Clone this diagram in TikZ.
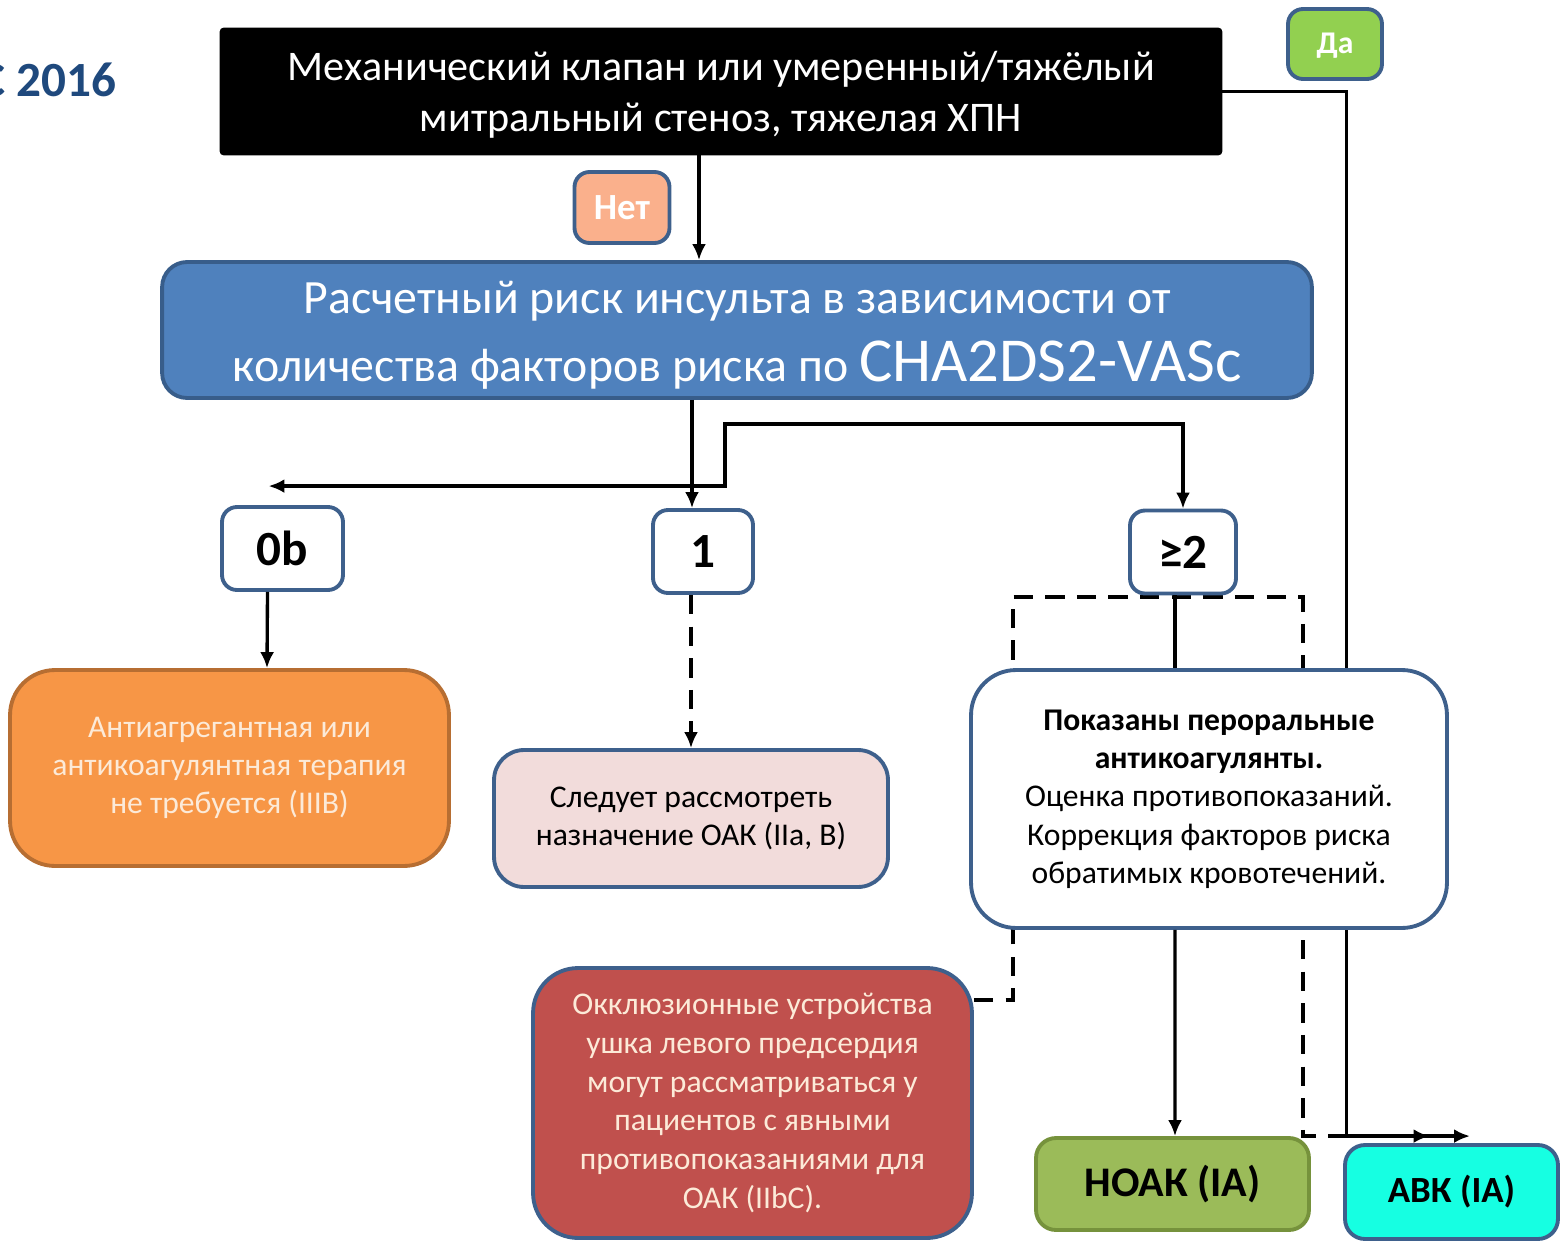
\documentclass[tikz,border=0pt]{standalone}
\usepackage{fontspec}
\setmainfont{Carlito}
\usetikzlibrary{arrows.meta,calc,backgrounds}
\definecolor{edgeBlue}{RGB}{62,96,140}
\definecolor{titleBlue}{RGB}{31,73,125}
\definecolor{riskFill}{RGB}{79,129,189}
\definecolor{riskEdge}{RGB}{56,93,138}
\definecolor{yesFill}{RGB}{146,208,80}
\definecolor{noFill}{RGB}{250,176,140}
\definecolor{orangeFill}{RGB}{247,150,70}
\definecolor{orangeEdge}{RGB}{183,110,50}
\definecolor{creamText}{RGB}{252,234,216}
\definecolor{pinkFill}{RGB}{242,220,219}
\definecolor{redFill}{RGB}{192,80,77}
\definecolor{noakFill}{RGB}{155,187,89}
\definecolor{noakEdge}{RGB}{118,146,60}
\definecolor{vkaFill}{RGB}{22,255,226}
\newcommand{\lowered}[2]{\raisebox{-#1}[\height][\depth]{#2}}

\begin{document}
\begin{tikzpicture}[
  x=0.02cm, y=-0.02cm,
  every node/.style={font=\fontsize{18}{21.8}\selectfont},
  box/.style={draw=edgeBlue,line width=2.2pt,rounded corners=0.9cm,align=center,inner sep=0pt},
  tag/.style={box,rounded corners=0.3cm,text=white,font=\bfseries\fontsize{18}{20}\selectfont,minimum width=1.88cm,minimum height=1.4cm},
  score/.style={box,rounded corners=0.3cm,fill=white,font=\bfseries\fontsize{28}{30}\selectfont,minimum height=1.66cm},
  tip/.tip={Latex[length=3.2mm,width=2.8mm]},
  arr/.style={line width=1.9pt,-tip},
  link/.style={line width=1.9pt},
  dlink/.style={link,dash pattern=on 11pt off 7pt}
]
\useasboundingbox (0,0) rectangle (1560,1241);

% top row
\node[anchor=east,inner sep=0pt,text=titleBlue,font=\bfseries\fontsize{28}{32}\selectfont] (year) at (117,80) {C 2016};
\node[fill=black,draw=black,rounded corners=2pt,text=white,align=center,
      minimum width=20.04cm,minimum height=2.54cm,font=\fontsize{24}{29}\selectfont] (valve) at (721,91.5)
      {\lowered{2pt}{Механический клапан или умеренный/тяжёлый}\\\lowered{2pt}{митральный стеноз, тяжелая ХПН}};
\node[tag,fill=yesFill] (yes) at (1335,44) {\lowered{1pt}{Да}};
\node[tag,fill=noFill,minimum width=1.9cm,minimum height=1.42cm,font=\bfseries\fontsize{21}{22}\selectfont] (no) at (622,207.5) {Нет};

\node[box,draw=riskEdge,fill=riskFill,text=white,rounded corners=0.5cm,
      minimum width=23cm,minimum height=2.72cm,font=\fontsize{27.2}{38.7}\selectfont] (risk) at (737,330)
      {\lowered{3pt}{Расчетный риск инсульта в зависимости от}\\\lowered{3pt}{количества факторов риска по {\fontsize{35.6}{38.7}\selectfont CHA2DS2-VASc}}};

% scores
\node[score,minimum width=2.42cm] (zero) at (282.5,548.5) {0b};
\node[score,minimum width=2cm] (one) at (703,551.5) {1};
\node[score,minimum width=2.12cm] (two) at (1183,552) {≥2};

% outcomes
\node[box,draw=orangeEdge,fill=orangeFill,text=creamText,minimum width=8.78cm,minimum height=3.92cm] (nocare) at (229.5,768)
      {Антиагрегантная или\\антикоагулянтная терапия\\не требуется (IIIB)};
\node[box,fill=pinkFill,rounded corners=0.6cm,minimum width=7.88cm,minimum height=2.74cm] (consider) at (691,818.5)
      {Следует рассмотреть\\назначение ОАК (IIa, B)};
\node[box,fill=white,minimum width=9.52cm,minimum height=5.16cm] (oac) at (1209,799)
      {\textbf{Показаны пероральные}\\\textbf{антикоагулянты.}\\Оценка противопоказаний.\\Коррекция факторов риска\\обратимых кровотечений.};
\node[box,fill=redFill,text=creamText,minimum width=8.78cm,minimum height=5.4cm,font=\fontsize{18}{22}\selectfont] (laa) at (752.5,1103)
      {Окклюзионные устройства\\ушка левого предсердия\\могут рассматриваться у\\пациентов с явными\\противопоказаниями для\\ОАК (IIbC).};
\node[box,draw=noakEdge,fill=noakFill,rounded corners=0.4cm,minimum width=5.46cm,minimum height=1.84cm,
      font=\bfseries\fontsize{24}{28}\selectfont] (noak) at (1172.5,1184) {НОАК (IA)};
\node[box,fill=vkaFill,rounded corners=0.4cm,minimum width=4.26cm,minimum height=1.88cm,
      font=\bfseries\fontsize{21}{24}\selectfont] (vka) at (1451.5,1192) {АВК (IA)};

% connectors
\coordinate (vd) at ($(valve.south)+(-22,0)$);
\draw[arr] (vd) -- (vd |- risk.north);
\draw[arr] ($(risk.south)+(-45,0)$) -- ($(one.north)+(-11,0)$);
\coordinate (zeroIn) at ($(zero.north)+(-14,-19)$);
\coordinate (brk) at (725,424);
\draw[link,tip-tip] (zeroIn) -| (brk) -| (two.north);
\draw[arr] ($(zero.south)+(-15,0)$) -- ($(nocare.north)+(37.5,0)$);
\draw[arr,dash pattern=on 11pt off 7pt] ($(one.south)+(-12,0)$) -- (consider.north);
\draw[link] ($(two.south)+(-8,0)$) -- ($(oac.north)+(-34,0)$);
\draw[arr] ($(oac.south)+(-34,0)$) -- ($(noak.north)+(2.5,0)$);

\coordinate (vkaIn) at ($(vka.north)+(18.5,-7)$);
\coordinate (vkaIn2) at ($(vka.north)+(-22,-7)$);
\coordinate (dl) at (1013,597);
\coordinate (dr) at (1303,597);
\begin{scope}[on background layer]
\draw[arr] (valve.east) -- ++(124,0) |- (vkaIn);
\draw[dlink,-tip] ($(laa.north east)+(0,34)$) -| (dl) -| (dr) |- (vkaIn2);
\end{scope}
\end{tikzpicture}
\end{document}
